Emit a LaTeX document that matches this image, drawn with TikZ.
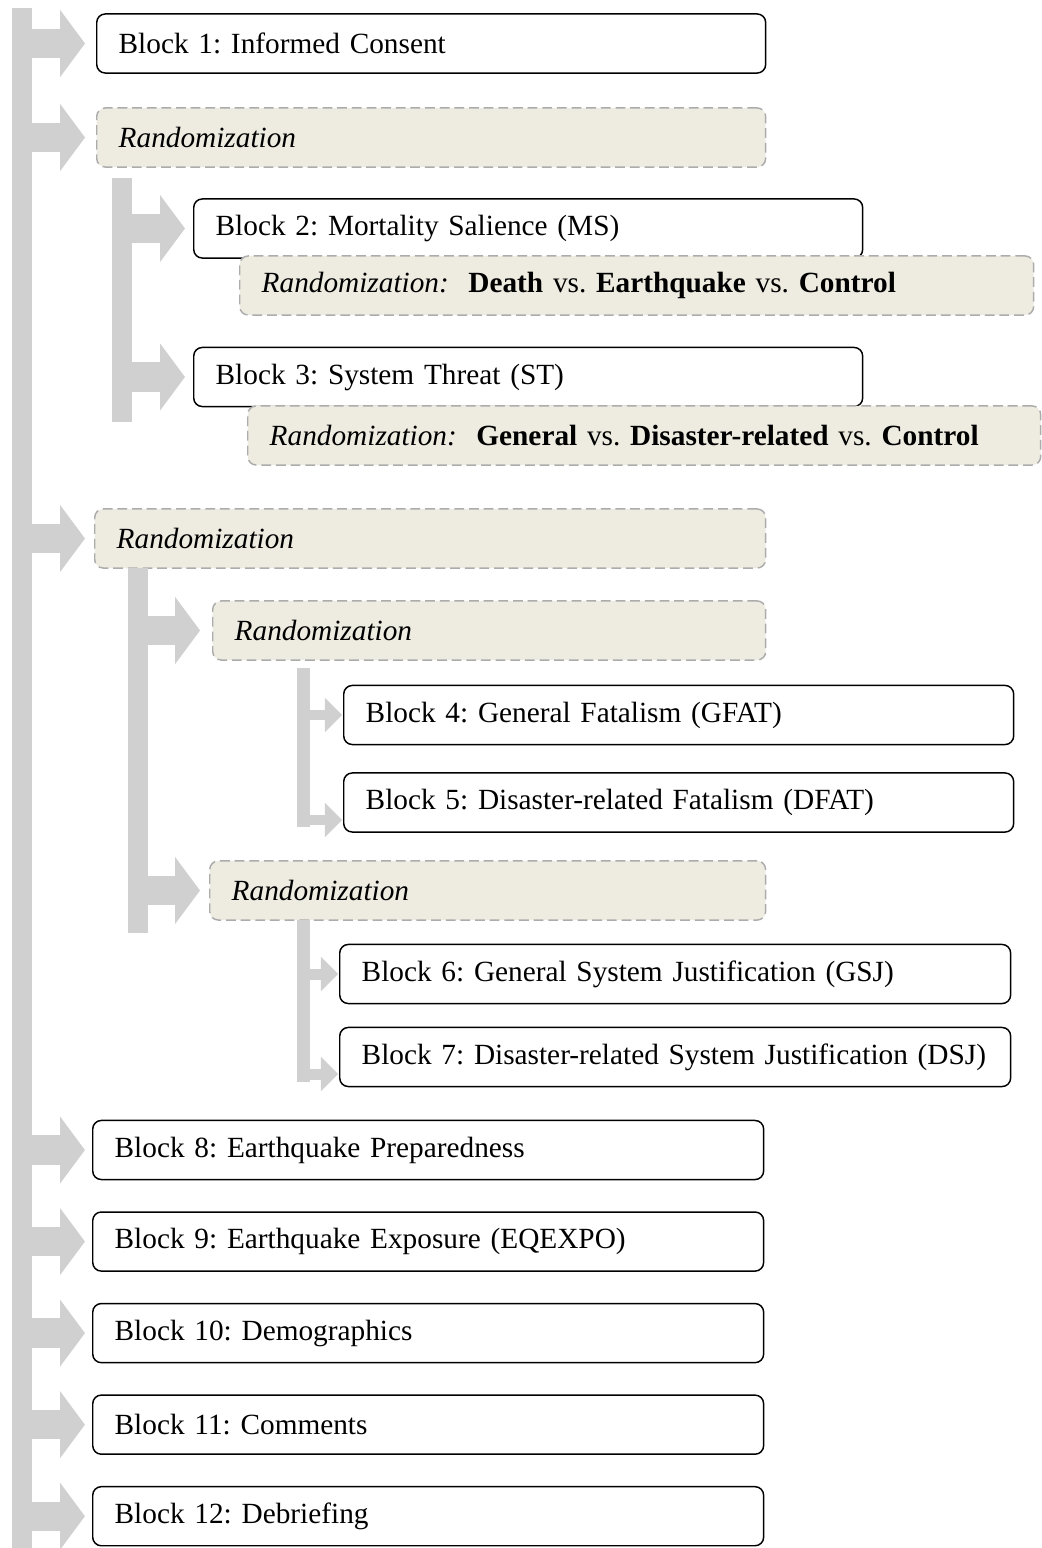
\documentclass[tikz,border=0pt]{standalone}
\usepackage{fontspec}
\setmainfont{Liberation Serif}
\usetikzlibrary{positioning, arrows.meta}
\definecolor{bargray}{RGB}{208,208,208}
\definecolor{beige}{RGB}{238,236,225}
\definecolor{dashgray}{RGB}{172,172,172}
\tikzset{
  block/.style = {draw, rounded corners = 3.5pt, line width = 0.6pt, anchor = west,
    inner xsep = 9pt, inner ysep = 0pt, minimum height = 24.2pt,
    text width = #1, align = left},
  block/.default = 256pt,
  randbox/.style = {block = #1, draw = dashgray, fill = beige,
    dash pattern = on 4pt off 2pt},
  randbox/.default = 256pt,
  trunk/.style = {draw = bargray, line width = 8.2pt},
  thintrunk/.style = {draw = bargray, line width = 5.3pt},
  branch/.style = {draw = bargray, line width = 12pt, shorten > = #1,
    -{Triangle[length = 10.2pt, width = 27.5pt, line width = 0pt]}},
  branch/.default = 4.5pt,
  twig/.style = {draw = bargray, line width = 4.5pt, shorten > = #1,
    -{Triangle[length = 7pt, width = 14pt, line width = 0pt]}},
  twig/.default = 0.4pt
}
\begin{document}
\begin{tikzpicture}[x = 0.4096pt, y = -0.4096pt,
    font = \fontsize{12}{14}\selectfont\frenchspacing]
\useasboundingbox (0,0) rectangle (1041,1548);

% survey blocks
\node [block] (b1) at (96,43.5) {Block 1: Informed Consent};
\node [randbox] (r1) at (96,137.5) {\textit{Randomization}};
\node [block] (b2) at (193,228.5) {Block 2: Mortality Salience (MS)};
\node [randbox = 307.2pt] (rms) at (239,285.5)
  {\textit{Randomization:}\ \ \textbf{Death} vs. \textbf{Earthquake} vs. \textbf{Control}};
\node [block] (b3) at (193,377) {Block 3: System Threat (ST)};
\node [randbox = 306.8pt] (rst) at (247,435.5)
  {\textit{Randomization:}\ \ \textbf{General} vs. \textbf{Disaster-related} vs. \textbf{Control}};
\node [randbox = 256.8pt] (r2) at (94,538.5) {\textit{Randomization}};
\node [randbox = 208.5pt] (r3) at (212,630.5) {\textit{Randomization}};
\node [block = 256.4pt] (b4) at (343,715) {Block 4: General Fatalism (GFAT)};
\node [block = 256.4pt] (b5) at (343,802.5) {Block 5: Disaster-related Fatalism (DFAT)};
\node [randbox = 209.7pt] (r4) at (209,890.5) {\textit{Randomization}};
\node [block = 256.8pt] (b6) at (339,974) {Block 6: General System Justification (GSJ)};
\node [block = 256.8pt] (b7) at (339,1057)
  {\mbox{Block 7: Disaster-related System Justification (DSJ)}};
\node [block = 256.8pt] (b8) at (92,1150) {Block 8: Earthquake Preparedness};
\node [block = 256.8pt] (b9) [below = 12.7pt of b8] {Block 9: Earthquake Exposure (EQEXPO)};
\node [block = 256.8pt] (b10) [below = 12.7pt of b9] {Block 10: Demographics};
\node [block = 256.8pt] (b11) [below = 12.7pt of b10] {Block 11: Comments};
\node [block = 256.8pt] (b12) [below = 12.7pt of b11] {Block 12: Debriefing};

% gray flow bars
\coordinate (main) at (22,8);
\coordinate (main end) at (22,1548);
\coordinate (sub) at (122,178);
\coordinate (sub end) at (122,422);
\coordinate (split) at (138,568);
\coordinate (split end) at (138,933);
\coordinate (fat) at (303.5,668);
\coordinate (fat end) at (303.5,827);
\coordinate (sj) at (303.5,920);
\coordinate (sj end) at (303.5,1082);
\coordinate (y5) at (0,820);
\coordinate (y7) at (0,1074);

\draw [trunk] (main) -- (main end);
\draw [trunk] (sub) -- (sub end);
\draw [trunk] (split) -- (split end);
\draw [thintrunk] (fat) -- (fat end);
\draw [thintrunk] (sj) -- (sj end);

\foreach \n/\gap in {b1/4.5pt, r1/4.5pt, r2/3.7pt, b8/2.9pt, b9/2.9pt,
    b10/2.9pt, b11/2.9pt, b12/2.9pt}
  \draw [branch = \gap] (main |- \n.west) -- (\n.west);
\draw [branch = 3.3pt] (sub |- b2.west) -- (b2.west);
\draw [branch = 3.3pt] (sub |- b3.west) -- (b3.west);
\draw [branch = 4.9pt] (split |- r3.west) -- (r3.west);
\draw [branch = 3.7pt] (split |- r4.west) -- (r4.west);
\draw [twig] (fat |- b4.west) -- (b4.west);
\draw [twig] (fat |- y5) -- (b5.west |- y5);
\draw [twig] (sj |- b6.west) -- (b6.west);
\draw [twig] (sj |- y7) -- (b7.west |- y7);

\end{tikzpicture}
\end{document}
